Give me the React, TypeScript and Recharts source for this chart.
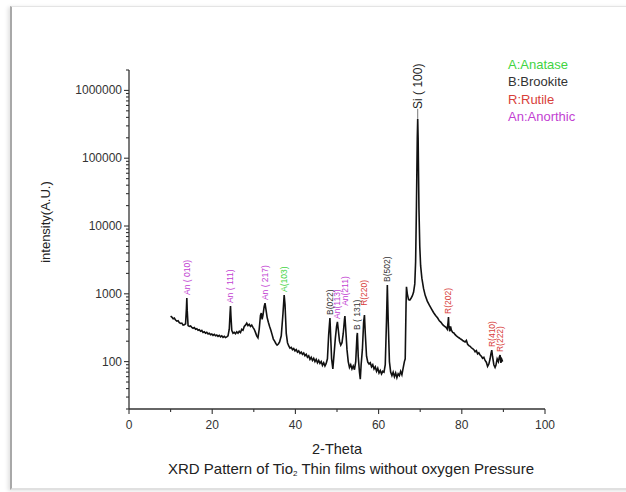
import React from "react";
import { LineChart, Line, XAxis, YAxis, ReferenceDot } from "recharts";

// 2-theta positions (deg)
const twoTheta = [
  10.0, 10.3, 10.6, 10.9, 11.2, 11.5, 11.8, 12.1, 12.4, 12.7, 13.0, 13.3, 13.6, 13.8, 13.9, 14.0, 14.2, 14.5, 14.8, 15.1,
  15.4, 15.7, 16.0, 16.3, 16.6, 16.9, 17.2, 17.5, 17.8, 18.1, 18.4, 18.7, 19.0, 19.3, 19.6, 19.9, 20.2, 20.5, 20.8, 21.1,
  21.4, 21.7, 22.0, 22.3, 22.6, 22.9, 23.2, 23.5, 23.8, 24.1, 24.3, 24.4, 24.5, 24.7, 25.0, 25.3, 25.6, 25.9, 26.2, 26.5,
  26.8, 27.1, 27.4, 27.7, 28.0, 28.3, 28.6, 28.9, 29.2, 29.5, 29.8, 30.1, 30.4, 30.7, 31.0, 31.3, 31.6, 31.8, 32.0, 32.2,
  32.5, 32.7, 32.9, 33.2, 33.5, 33.8, 34.1, 34.4, 34.7, 35.0, 35.3, 35.6, 35.9, 36.2, 36.6, 37.0, 37.3, 37.5, 37.8, 38.1,
  38.4, 38.7, 39.0, 39.3, 39.6, 39.9, 40.2, 40.5, 40.8, 41.1, 41.4, 41.7, 42.0, 42.3, 42.6, 42.9, 43.2, 43.5, 43.8, 44.1,
  44.4, 44.7, 45.0, 45.3, 45.6, 45.9, 46.2, 46.5, 46.8, 47.1, 47.4, 47.7, 48.0, 48.3, 48.5, 48.7, 49.0, 49.3, 49.6, 49.9,
  50.1, 50.3, 50.6, 50.9, 51.2, 51.5, 51.8, 51.9, 52.1, 52.4, 52.7, 53.0, 53.3, 53.6, 53.9, 54.2, 54.5, 54.8, 54.9, 55.1,
  55.4, 55.6, 55.8, 56.1, 56.4, 56.6, 56.8, 57.1, 57.4, 57.7, 58.0, 58.3, 58.6, 58.9, 59.2, 59.5, 59.8, 60.1, 60.4, 60.7,
  61.0, 61.3, 61.6, 61.9, 62.1, 62.3, 62.6, 62.9, 63.2, 63.5, 63.8, 64.1, 64.4, 64.7, 65.0, 65.3, 65.6, 65.9, 66.2, 66.4,
  66.6, 66.7, 66.9, 67.2, 67.5, 67.8, 68.1, 68.4, 68.7, 68.9, 69.1, 69.3, 69.4, 69.5, 69.7, 69.9, 70.1, 70.4, 70.8, 71.2,
  71.7, 72.2, 72.7, 73.2, 73.7, 74.2, 74.6, 75.0, 75.4, 75.8, 76.2, 76.5, 76.7, 76.8, 76.9, 77.1, 77.3, 77.5, 77.8, 78.1,
  78.4, 78.7, 79.0, 79.3, 79.6, 79.9, 80.2, 80.5, 80.8, 81.1, 81.4, 81.7, 82.0, 82.3, 82.6, 82.9, 83.2, 83.5, 83.8, 84.1,
  84.4, 84.7, 85.0, 85.3, 85.6, 85.9, 86.2, 86.5, 86.8, 87.0, 87.2, 87.4, 87.7, 88.0, 88.2, 88.5, 88.8, 89.0, 89.2, 89.4,
  89.6, 89.8,
];

// intensity (A.U.), same order as twoTheta
const intensity = [
  470, 455, 430, 440, 410, 395, 400, 375, 365, 370, 345, 350, 360, 600, 870, 560, 340, 330, 335, 320,
  310, 318, 300, 305, 290, 296, 280, 288, 270, 276, 262, 270, 255, 262, 250, 256, 244, 252, 240, 246,
  236, 244, 232, 240, 228, 236, 226, 232, 240, 300, 520, 660, 480, 290, 262, 270, 258, 275, 262, 280,
  268, 300, 290, 330, 345, 370, 340, 355, 330, 345, 320, 300, 270, 240, 225, 300, 480, 520, 420, 480,
  650, 730, 600, 450, 380, 330, 290, 250, 215, 200, 185, 175, 182, 195, 240, 500, 960, 700, 260, 190,
  170, 158, 162, 150, 156, 144, 150, 138, 144, 132, 138, 128, 134, 122, 128, 116, 122, 108, 116, 104,
  112, 100, 108, 96, 104, 94, 100, 88, 96, 86, 94, 110, 250, 440, 220, 110, 78, 130, 220, 330,
  385, 300, 200, 175, 190, 260, 420, 470, 300, 150, 100, 82, 90, 78, 86, 76, 100, 240, 265, 120,
  70, 55, 90, 150, 380, 485, 260, 120, 98, 92, 96, 84, 90, 78, 84, 72, 80, 68, 74, 66,
  72, 70, 90, 400, 1350, 420, 100, 70, 62, 70, 60, 68, 58, 66, 62, 72, 64, 80, 100, 110,
  700, 1270, 1000, 820, 810, 860, 930, 1050, 1400, 3000, 20000, 200000, 380000, 200000, 18000, 5000, 2600, 1700, 1200, 950,
  780, 680, 600, 530, 480, 440, 400, 380, 350, 335, 320, 300, 380, 455, 330, 280, 330, 290, 270, 265,
  250, 240, 232, 225, 218, 212, 205, 200, 195, 205, 180, 172, 168, 160, 155, 150, 140, 145, 130, 135,
  125, 120, 112, 116, 104, 98, 85, 92, 110, 130, 148, 118, 90, 82, 88, 110, 100, 115, 125, 96,
  108, 100,
];

// peak annotations
const peakLabels = ["An ( 010)", "An ( 111)", "An ( 217)", "A(103)", "B(022)", "An(113)", "An(211)", "B ( 131)", "R(220)", "B(502)", "Si ( 100)", "R(202)", "R(410)", "R(222)"];
const peakTheta = [13.9, 24.4, 32.7, 37.3, 48.3, 50.1, 51.9, 54.9, 56.6, 62.1, 69.4, 76.8, 87.2, 89.2];
const peakHeight = [870, 660, 730, 960, 440, 385, 600, 265, 600, 1350, 380000, 455, 148, 125];
const peakPhase = ["An", "An", "An", "A", "B", "An", "An", "B", "R", "B", "Si", "R", "R", "R"];

const legendItems = ["A:Anatase", "B:Brookite", "R:Rutile", "An:Anorthic"];
const legendPhase = ["A", "B", "R", "An"];

const xTicks = [0, 10, 20, 30, 40, 50, 60, 70, 80, 90, 100];
const yTicks = [
  20, 30, 40, 50, 60, 70, 80, 90, 100, 200, 300, 400, 500, 600, 700, 800, 900, 1000, 2000, 3000, 4000, 5000, 6000, 7000,
  8000, 9000, 10000, 20000, 30000, 40000, 50000, 60000, 70000, 80000, 90000, 100000, 200000, 300000, 400000, 500000,
  600000, 700000, 800000, 900000, 1000000, 2000000,
];

const phaseColor: Record<string, string> = {
  A: "#3fd43f",
  B: "#333333",
  R: "#d8403a",
  An: "#c23fd2",
  Si: "#222222",
};

const data = twoTheta.map((t, i) => ({ t, v: intensity[i] }));
const FONT = "'Liberation Sans', Arial, sans-serif";

const YTick = (props: any) => {
  const { x, y, payload } = props;
  const v = payload.value;
  const major = [100, 1000, 10000, 100000, 1000000].includes(v);
  return (
    <g>
      <line x1={x} x2={x - (major ? 5 : 3)} y1={y} y2={y} stroke="#333" strokeWidth={1.1} />
      {major && (
        <text x={x - 7} y={y} dy={4} textAnchor="end" fontSize={12} fill="#333" fontFamily={FONT}>
          {v}
        </text>
      )}
    </g>
  );
};

const XTick = (props: any) => {
  const { x, y, payload } = props;
  const v = payload.value;
  const major = v % 20 === 0;
  return (
    <g>
      <line x1={x} x2={x} y1={y} y2={y + (major ? 5 : 3)} stroke="#333" strokeWidth={1.1} />
      {major && (
        <text x={x} y={y + 20} textAnchor="middle" fontSize={12} fill="#333" fontFamily={FONT}>
          {v}
        </text>
      )}
    </g>
  );
};

const PeakTag = (label: string, phase: string) => (props: any) => {
  const { cx, cy } = props;
  const si = phase === "Si";
  const fs = si ? 12 : 8.5;
  const gap = si ? 10 : 3;
  const by = cy - gap;
  return (
    <g>
      {si && <line x1={cx} x2={cx} y1={cy} y2={by} stroke="#555" strokeWidth={0.8} />}
      <text
        x={cx}
        y={by}
        dy={fs * 0.35}
        transform={`rotate(-90 ${cx} ${by})`}
        textAnchor="start"
        fontSize={fs}
        fill={phaseColor[phase]}
        fontFamily={FONT}
      >
        {label}
      </text>
    </g>
  );
};

export default function App() {
  return (
    <div style={{ position: "absolute", left: 0, top: 0, width: 626, height: 492, background: "#fff", fontFamily: FONT }}>
      <div
        style={{
          position: "absolute",
          left: 10,
          top: 6,
          width: 620,
          height: 481,
          borderLeft: "2px solid #a8a8a8",
          borderTop: "1px solid #e4e4e4",
          borderBottom: "2px solid #e0e0e0",
          boxShadow: "-2px 1px 4px rgba(0,0,0,0.12)",
        }}
      />
      <div style={{ position: "absolute", left: 0, top: 0 }}>
        <LineChart width={626} height={492} data={data} margin={{ top: 70, right: 81, bottom: 53, left: 69 }}>
          <XAxis
            dataKey="t"
            type="number"
            domain={[0, 100]}
            ticks={xTicks}
            interval={0}
            height={30}
            tickSize={0}
            tickMargin={0}
            tickLine={false}
            tick={<XTick />}
            axisLine={{ stroke: "#333", strokeWidth: 1.3 }}
          />
          <YAxis
            scale="log"
            domain={[20, 2000000]}
            allowDataOverflow
            ticks={yTicks}
            interval={0}
            width={60}
            tickSize={0}
            tickMargin={0}
            tickLine={false}
            tick={<YTick />}
            axisLine={{ stroke: "#333", strokeWidth: 1.3 }}
          />
          <Line
            type="linear"
            dataKey="v"
            stroke="#111"
            strokeWidth={1.6}
            dot={false}
            isAnimationActive={false}
          />
          {peakLabels.map((lab, i) => (
            <ReferenceDot
              key={lab}
              x={peakTheta[i]}
              y={peakHeight[i]}
              r={0}
              ifOverflow="visible"
              shape={PeakTag(lab, peakPhase[i])}
            />
          ))}
        </LineChart>
      </div>
      <div style={{ position: "absolute", left: 508, top: 56, fontSize: 13, lineHeight: "17.3px" }}>
        {legendItems.map((t, i) => (
          <div key={t} style={{ color: phaseColor[legendPhase[i]] }}>
            {t}
          </div>
        ))}
      </div>
      <div
        style={{
          position: "absolute",
          left: 45,
          top: 222,
          transform: "translate(-50%, -50%) rotate(-90deg)",
          fontSize: 13,
          color: "#222",
          whiteSpace: "nowrap",
        }}
      >
        intensity(A.U.)
      </div>
      <div style={{ position: "absolute", left: 337, top: 449, transform: "translate(-50%, -50%)", fontSize: 14.5, color: "#222", whiteSpace: "nowrap" }}>
        2-Theta
      </div>
      <div style={{ position: "absolute", left: 351, top: 469, transform: "translate(-50%, -50%)", fontSize: 15, color: "#222", whiteSpace: "nowrap" }}>
        XRD Pattern of Tio<sub style={{ fontSize: 8, verticalAlign: "-2px" }}>2</sub> Thin films without oxygen Pressure
      </div>
    </div>
  );
}
